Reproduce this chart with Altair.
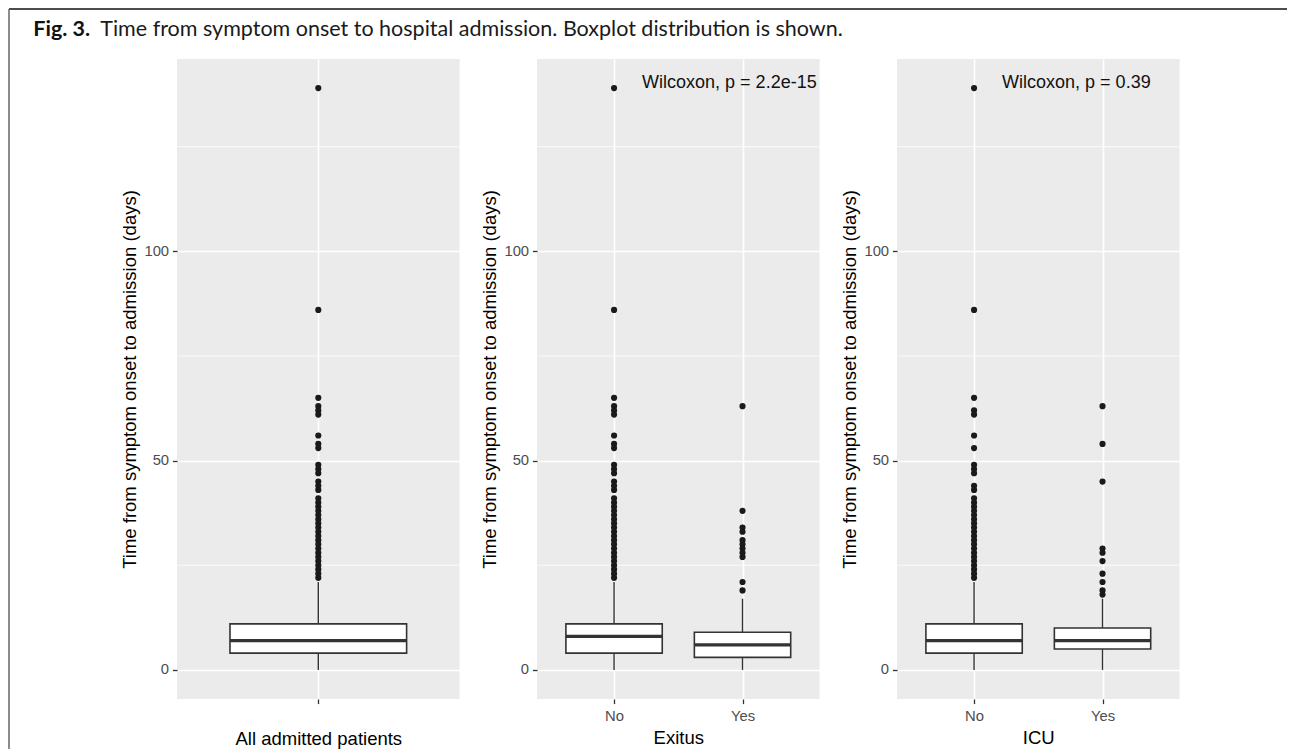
import altair as alt
import pandas as pd

# ---------------- data ----------------
title_bold = "Fig. 3."
title_rest = "Time from symptom onset to hospital admission. Boxplot distribution is shown."
y_title = "Time from symptom onset to admission (days)"
panel_titles = ["All admitted patients", "Exitus", "ICU"]

all_groups = ["All"]
all_lo = [0]
all_q1 = [4]
all_med = [7]
all_q3 = [11]
all_hi = [21]
all_out = [139, 86, 65, 63, 62, 61, 56, 54, 53, 49, 48, 47, 45, 44, 43,
           41, 40, 39, 38, 37, 36, 35, 34, 33, 32, 31, 30, 29, 28, 27, 26,
           25, 24, 23, 22]

exitus_groups = ["No", "Yes"]
exitus_lo = [0, 0]
exitus_q1 = [4, 3]
exitus_med = [8, 6]
exitus_q3 = [11, 9]
exitus_hi = [21, 17]
exitus_no_out = [139, 86, 65, 63, 62, 61, 56, 54, 53, 49, 48, 47, 45, 44, 43,
                 41, 40, 39, 38, 37, 36, 35, 34, 33, 32, 31, 30, 29, 28, 27, 26,
                 25, 24, 23, 22]
exitus_yes_out = [63, 38, 34, 33, 31, 30, 29, 28, 27, 21, 19]

icu_groups = ["No", "Yes"]
icu_lo = [0, 0]
icu_q1 = [4, 5]
icu_med = [7, 7]
icu_q3 = [11, 10]
icu_hi = [21, 17]
icu_no_out = [139, 86, 65, 62, 61, 56, 53, 49, 48, 47, 44, 43,
              41, 40, 39, 38, 37, 36, 35, 34, 33, 32, 31, 30, 29, 28, 27, 26,
              25, 24, 23, 22]
icu_yes_out = [63, 54, 45, 29, 28, 26, 23, 21, 19, 18]

wilcoxon_labels = ["Wilcoxon, p = 2.2e-15", "Wilcoxon, p = 0.39"]
label_y = 139

y_ticks = [0, 50, 100]
minor_grid = [25, 75, 125]
y_domain = [-6.95, 145.95]

# ---------------- style ----------------
PW, PH = 282.6, 640
GAP = 77
AX_FONT = "Liberation Sans"
BOX_COL = "#333333"


def make_panel(groups, lo, q1, med, q3, hi, out_groups, out_vals, xtitle,
               show_labels, wil=None, extras=None):
    box_df = pd.DataFrame({"g": groups, "lo": lo, "q1": q1, "med": med,
                           "q3": q3, "hi": hi})
    out_df = pd.DataFrame({"g": out_groups, "v": out_vals})
    step = PW / (len(groups) - 1 + 1.2)
    bw = 0.75 * step

    xscale = alt.Scale(type="point", padding=0.6, domain=groups)
    yscale = alt.Scale(domain=y_domain, nice=False, zero=False)

    xaxis = alt.Axis(
        labels=show_labels, labelAngle=0, labelFont=AX_FONT, labelFontSize=14.8,
        labelColor="#4D4D4D", labelPadding=5, tickSize=4.6, tickColor=BOX_COL,
        tickWidth=1.3, domain=False, grid=True, gridColor="white", gridWidth=1.6,
        titleFont=AX_FONT, titleFontSize=18.5, titleFontWeight="normal",
        titleColor="black", titlePadding=5 if show_labels else 25,
    )
    yaxis = alt.Axis(
        values=y_ticks, labelFont=AX_FONT, labelFontSize=14.8, labelColor="#4D4D4D",
        labelPadding=3.8, tickSize=4.6, tickColor=BOX_COL, tickWidth=1.3,
        domain=False, grid=True, gridColor="white", gridWidth=1.6,
        titleFont=AX_FONT, titleFontSize=18.5, titleFontWeight="normal",
        titleColor="black", titlePadding=4,
    )

    X = alt.X("g:N", scale=xscale, axis=xaxis, title=xtitle)

    minor = alt.Chart(pd.DataFrame({"v": minor_grid})).mark_rule(
        color="white", strokeWidth=0.8
    ).encode(y=alt.Y("v:Q", scale=yscale, axis=yaxis, title=y_title))

    base = alt.Chart(box_df)
    whisk_hi = base.mark_rule(color=BOX_COL, strokeWidth=1.4).encode(
        x=X, y=alt.Y("q3:Q", title=y_title), y2="hi:Q")
    whisk_lo = base.mark_rule(color=BOX_COL, strokeWidth=1.4).encode(
        x=X, y=alt.Y("lo:Q", title=y_title), y2="q1:Q")
    box = base.mark_bar(fill="white", stroke=BOX_COL, strokeWidth=1.6).encode(
        x=X, y=alt.Y("q1:Q", title=y_title), y2="q3:Q", size=alt.value(bw))
    median = base.mark_tick(color=BOX_COL, thickness=3.2, size=bw, opacity=1).encode(
        x=X, y=alt.Y("med:Q", title=y_title))
    pts = alt.Chart(out_df).mark_circle(size=38, color="#1A1A1A", opacity=1).encode(
        x=X, y=alt.Y("v:Q", title=y_title))

    layers = [minor, whisk_hi, whisk_lo, box, median, pts]
    if wil is not None:
        wdf = pd.DataFrame({"g": [groups[0]], "y": [label_y], "t": [wil]})
        layers.append(
            alt.Chart(wdf).mark_text(align="left", baseline="alphabetic", dx=28,
                                     font=AX_FONT, fontSize=18, color="#111111").encode(
                x=X, y=alt.Y("y:Q", title=y_title), text="t:N"))
    if extras:
        layers.extend(extras)
    return alt.layer(*layers).properties(width=PW, height=PH)


one = pd.DataFrame({"k": [0]})
title_a = alt.Chart(one).mark_text(
    align="left", baseline="alphabetic", font="Lato", fontWeight="bold",
    fontSize=21.5, color="#111111").encode(
    x=alt.value(-143.7), y=alt.value(-23), text=alt.value(title_bold))
title_b = alt.Chart(one).mark_text(
    align="left", baseline="alphabetic", font="Lato", fontWeight="normal",
    fontSize=21.5, color="#1A1A1A").encode(
    x=alt.value(-76.7), y=alt.value(-23), text=alt.value(title_rest))
frame_top = alt.Chart(one).mark_rule(color="#111111", strokeWidth=1.5).encode(
    x=alt.value(-168), x2=alt.value(1110), y=alt.value(-50))
frame_left = alt.Chart(one).mark_rule(color="#666666", strokeWidth=1.5).encode(
    x=alt.value(-168), y=alt.value(-50), y2=alt.value(691))

p1 = make_panel(all_groups, all_lo, all_q1, all_med, all_q3, all_hi,
                ["All"] * len(all_out), all_out, panel_titles[0], False,
                extras=[frame_top, frame_left, title_a, title_b])
p2 = make_panel(exitus_groups, exitus_lo, exitus_q1, exitus_med, exitus_q3, exitus_hi,
                ["No"] * len(exitus_no_out) + ["Yes"] * len(exitus_yes_out),
                exitus_no_out + exitus_yes_out, panel_titles[1], True,
                wil=wilcoxon_labels[0])
p3 = make_panel(icu_groups, icu_lo, icu_q1, icu_med, icu_q3, icu_hi,
                ["No"] * len(icu_no_out) + ["Yes"] * len(icu_yes_out),
                icu_no_out + icu_yes_out, panel_titles[2], True,
                wil=wilcoxon_labels[1])

chart = alt.hconcat(p1, p2, p3, spacing=GAP, bounds="flush").properties(
    padding=0
).configure_view(fill="#EBEBEB", stroke=None)

chart.save("out.html", embed_options={"renderer": "svg", "actions": False})
